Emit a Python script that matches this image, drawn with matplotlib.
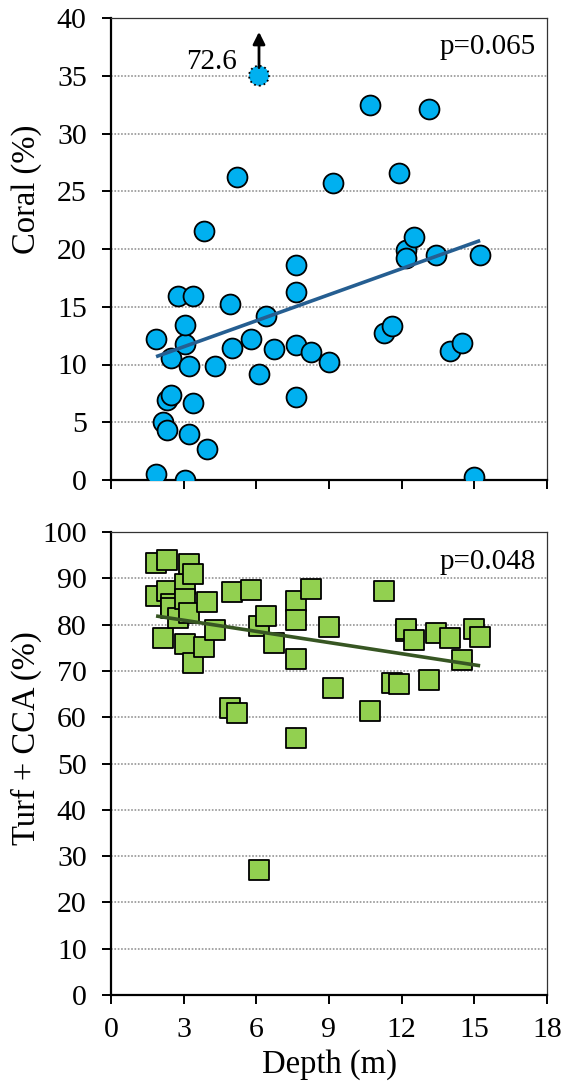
import numpy as np
import matplotlib
matplotlib.use("Agg")
import matplotlib.pyplot as plt

plt.rcParams['font.family'] = ['Liberation Serif', 'DejaVu Serif']

# Survey depths (m) and benthic cover (%) per site
depth = [1.86, 1.86, 2.15, 2.33, 2.33, 2.46, 2.46, 2.78, 3.07, 3.07, 3.07,
         3.22, 3.22, 3.37, 3.40, 3.83, 3.98, 4.29, 4.91, 5.00, 5.19, 5.79,
         6.11, 6.12, 6.39, 6.73, 7.64, 7.64, 7.64, 7.64, 8.24, 9.00, 9.15,
         10.68, 11.28, 11.60, 11.90, 12.18, 12.18, 12.51, 13.12, 13.42,
         14.01, 14.49, 15.00, 15.24]

coral = [0.5, 12.2, 5.0, 4.3, 6.9, 7.4, 10.6, 15.9, 0.0, 11.8, 13.4,
         9.9, 4.0, 6.7, 15.9, 21.6, 2.7, 9.9, 15.2, 11.4, 26.2, 12.2,
         72.6, 9.2, 14.2, 11.3, 18.6, 16.3, 11.7, 7.2, 11.1, 10.2, 25.7,
         32.5, 12.7, 13.3, 26.6, 19.9, 19.2, 21.0, 32.1, 19.5,
         11.2, 11.9, 0.3, 19.5]

turf_cca = [86.2, 93.2, 77.2, 93.9, 87.3, 84.5, 83.5, 81.4, 88.7, 85.5, 75.8,
            82.5, 93.0, 90.9, 71.8, 75.2, 84.9, 78.8, 61.9, 87.0, 60.8, 87.5,
            27.0, 79.8, 81.9, 76.0, 85.1, 81.0, 72.6, 55.4, 87.7, 79.4, 66.2,
            61.4, 87.3, 67.3, 67.1, 78.6, 79.0, 76.7, 68.0, 78.1,
            77.0, 72.4, 79.0, 77.4]

# Linear trends (slope, intercept)
coral_trend = (0.7515, 9.28)
turf_trend = (-0.804, 83.36)

coral_p = "p=0.065"
turf_p = "p=0.048"

coral_cap = 35          # values above this are drawn at the cap with an arrow
x_ticks = [0, 3, 6, 9, 12, 15, 18]
coral_ticks = [0, 5, 10, 15, 20, 25, 30, 35, 40]
turf_ticks = [0, 10, 20, 30, 40, 50, 60, 70, 80, 90, 100]

TICK_FS = 21.5
LABEL_FS = 23.5
NOTE_FS = 21
W, H = 563, 1089
fig = plt.figure(figsize=(W / 100, H / 100), dpi=100)

def px_axes(left, top, right, bottom):
    return fig.add_axes([left / W, 1 - bottom / H, (right - left) / W, (bottom - top) / H])

ax1 = px_axes(111, 18, 547, 480)
ax2 = px_axes(111, 532, 547, 995)

def style(ax, yticks, show_xlabels):
    ax.set_xlim(0, 18)
    ax.set_xticks(x_ticks)
    ax.set_ylim(yticks[0], yticks[-1])
    ax.set_yticks(yticks)
    for y in yticks[1:-1]:
        ax.axhline(y, color='#8c8c8c', lw=1.1, ls=(0, (1.1, 1.1)), zorder=0)
    for s in ('left', 'bottom'):
        ax.spines[s].set_linewidth(1.6)
        ax.spines[s].set_color('black')
    for s in ('top', 'right'):
        ax.spines[s].set_linewidth(0.9)
        ax.spines[s].set_color('#333333')
    ax.tick_params(axis='both', direction='out', length=6.5, width=1.4,
                   labelsize=TICK_FS, colors='black')
    ax.tick_params(axis='y', pad=11)
    ax.tick_params(axis='x', pad=9)
    if not show_xlabels:
        ax.tick_params(axis='x', labelbottom=False)

style(ax1, coral_ticks, False)
style(ax2, turf_ticks, True)

d = np.array(depth)
c = np.array(coral)
t = np.array(turf_cca)

# Coral panel
normal = c <= coral_cap
ax1.scatter(d[normal], c[normal], s=205, marker='o', facecolor='#00B0F0',
            edgecolor='black', linewidth=1.3, zorder=3)
over = ~normal
ax1.scatter(d[over], np.full(over.sum(), coral_cap), s=205, marker='o',
            facecolor='#00B0F0', edgecolor='black', linewidth=1.3,
            linestyle=':', zorder=3)
for xo, vo in zip(d[over], c[over]):
    ax1.annotate('', xy=(xo, coral_cap + 3.8), xytext=(xo, coral_cap + 0.7),
                 arrowprops=dict(arrowstyle='-|>', color='black', lw=2,
                                 mutation_scale=18, shrinkA=0, shrinkB=0),
                 zorder=4)
    ax1.text(xo - 0.9, coral_cap + 1.2, f"{vo:.1f}", ha='right', va='center',
             fontsize=NOTE_FS)

xs = np.array([d.min(), d.max()])
ax1.plot(xs, coral_trend[0] * xs + coral_trend[1], color='#255E91', lw=2.6,
         zorder=4, solid_capstyle='butt')
ax1.text(0.974, 0.938, coral_p, transform=ax1.transAxes, ha='right',
         va='center', fontsize=NOTE_FS)
ax1.set_ylabel('Coral (%)', fontsize=LABEL_FS)
ax1.yaxis.set_label_coords(-0.158, 0.63)

# Turf + CCA panel
ax2.scatter(d, t, s=200, marker='s', facecolor='#92D050', edgecolor='black',
            linewidth=1.3, zorder=3)
ax2.plot(xs, turf_trend[0] * xs + turf_trend[1], color='#375623', lw=2.6,
         zorder=4, solid_capstyle='butt')
ax2.text(0.974, 0.936, turf_p, transform=ax2.transAxes, ha='right',
         va='center', fontsize=NOTE_FS)
ax2.set_ylabel('Turf + CCA (%)', fontsize=LABEL_FS)
ax2.yaxis.set_label_coords(-0.158, 0.555)
ax2.set_xlabel('Depth (m)', fontsize=LABEL_FS)
ax2.xaxis.set_label_coords(0.5, -0.118)

fig.savefig('out.png', dpi=100)
